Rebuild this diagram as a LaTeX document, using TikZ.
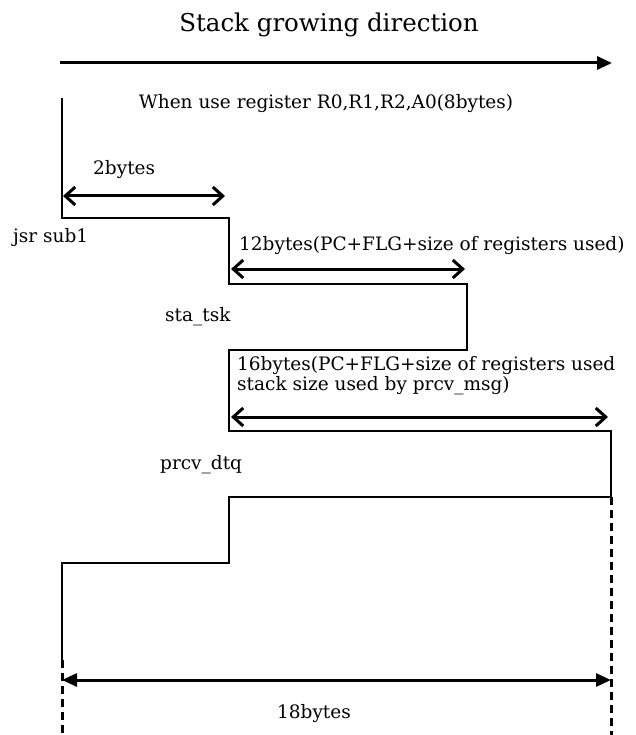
\documentclass[tikz,border=0pt]{standalone}
\usepackage{fontspec}
\setmainfont{DejaVu Serif}
\usetikzlibrary{arrows.meta}
\begin{document}
\begin{tikzpicture}[x=1pt,y=-1pt,
  lbl/.style={inner sep=0pt,font=\fontsize{18.5}{19.5}\selectfont},
  stepline/.style={line width=1.5pt},
  openarr/.style={line width=3pt,{Straight Barb[length=10pt,width=18pt]}-{Straight Barb[length=10pt,width=18pt]}},
  fillarr/.style={line width=3pt,-{Triangle[length=15pt,width=13pt]}},
  dimarr/.style={line width=3pt,{Triangle[length=15pt,width=13pt]}-{Triangle[length=15pt,width=13pt]}},
  dashline/.style={line width=3pt,dash pattern=on 8pt off 5pt}]
\useasboundingbox (0,0) rectangle (635,735);
% title and top arrow
\node[lbl,font=\fontsize{24.5}{29}\selectfont,anchor=base] (title) at (329,32) {Stack growing direction};
\coordinate (ta) at (60,63);
\coordinate (tb) at (612,63);
\draw[fillarr] (ta) -- (tb);
\node[lbl,anchor=base] (when) at (326,109) {When use register R0,R1,R2,A0(8bytes)};
% stepped profile
\coordinate (p0) at (62,98);
\coordinate (p1) at (62,218);
\coordinate (p2) at (229,218);
\coordinate (p3) at (229,284);
\coordinate (p4) at (467,284);
\coordinate (p5) at (467,350);
\coordinate (p6) at (229,350);
\coordinate (p7) at (229,431);
\coordinate (p8) at (611,431);
\coordinate (p9) at (611,497);
\coordinate (p10) at (229,497);
\coordinate (p11) at (229,563);
\coordinate (p12) at (62,563);
\coordinate (p13) at (62,660);
\coordinate (b1) at (62,735);
\coordinate (b2) at (611,735);
\draw[stepline] (p0) -- (p1) -- (p2) -- (p3) -- (p4) -- (p5) -- (p6) -- (p7) -- (p8) -- (p9) -- (p10) -- (p11) -- (p12) -- (p13);
\draw[dashline] (p13) -- (b1);
\draw[dashline] (p9) -- (b2);
% 2bytes
\coordinate (a1l) at (63,196);
\coordinate (a1r) at (225,196);
\draw[openarr] (a1l) -- (a1r);
\node[lbl,anchor=base west] (two) at (93,175) {2bytes};
\node[lbl,anchor=base west] (jsr) at (13,242) {jsr sub1};
% 12bytes
\coordinate (a2l) at (231,269);
\coordinate (a2r) at (465,269);
\draw[openarr] (a2l) -- (a2r);
\node[lbl,anchor=base west] (twelve) at (239,250) {12bytes(PC+FLG+size of registers used)};
\node[lbl,anchor=base west] (sta) at (165,321) {sta\_tsk};
% 16bytes
\coordinate (a3l) at (231,417);
\coordinate (a3r) at (608,417);
\draw[openarr] (a3l) -- (a3r);
\node[lbl,anchor=base west,align=left] (sixteen) at (237,390) {16bytes(PC+FLG+size of registers used\\stack size used by prcv\_msg)};
\node[lbl,anchor=base west] (prcv) at (160,469) {prcv\_dtq};
% 18bytes
\coordinate (a4l) at (62,680);
\coordinate (a4r) at (611,680);
\draw[dimarr] (a4l) -- (a4r);
\node[lbl,anchor=base] (eighteen) at (314,718) {18bytes};
\end{tikzpicture}
\end{document}
